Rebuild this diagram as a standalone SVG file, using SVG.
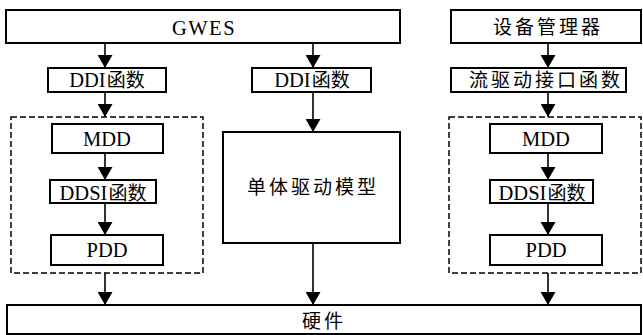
<svg xmlns="http://www.w3.org/2000/svg" width="643" height="335" viewBox="0 0 643 335">
<style>
.box{fill:#fff;stroke:#000;stroke-width:2}
.dash{fill:none;stroke:#000;stroke-width:1.5;stroke-dasharray:6 3}
.t{font-family:"Liberation Serif","Noto Sans CJK SC",serif;font-size:20.5px;fill:#000;text-anchor:middle}
.cn{font-size:19px;letter-spacing:3px}
.c{font-size:19px}
.arr{stroke:#000;stroke-width:1.6;fill:none;marker-end:url(#ah)}
</style>
<defs>
<marker id="ah" markerUnits="userSpaceOnUse" markerWidth="14" markerHeight="15" refX="13" refY="7.5" orient="auto">
<path d="M0,0 L13,7.5 L0,15 z" fill="#000"/>
</marker>
</defs>
<rect width="643" height="335" fill="#fff"/>
<g id="connectors">
<line class="arr" x1="105" y1="43" x2="105" y2="68"/>
<line class="arr" x1="313" y1="43" x2="313" y2="68"/>
<line class="arr" x1="548" y1="43" x2="548" y2="68"/>
<line class="arr" x1="105" y1="92" x2="105" y2="117"/>
<line class="arr" x1="313" y1="92" x2="313" y2="132"/>
<line class="arr" x1="548" y1="92" x2="548" y2="117"/>
<line class="arr" x1="105" y1="153" x2="105" y2="180"/>
<line class="arr" x1="105" y1="203" x2="105" y2="235"/>
<line class="arr" x1="548" y1="153" x2="548" y2="180"/>
<line class="arr" x1="548" y1="203" x2="548" y2="235"/>
<line class="arr" x1="105" y1="273" x2="105" y2="305"/>
<line class="arr" x1="313" y1="243" x2="313" y2="305"/>
<line class="arr" x1="548" y1="273" x2="548" y2="305"/>
</g>
<g id="gwes"><rect class="box" x="6" y="10" width="394" height="33"/><text class="t" x="204" y="35" letter-spacing="1.5">GWES</text></g>
<g id="devmgr"><rect class="box" x="451" y="10" width="190" height="33"/><text class="t cn" x="548" y="34">设备管理器</text></g>
<g id="ddi-left"><rect class="box" x="48" y="68" width="118" height="24"/><text class="t" x="107" y="87">DDI<tspan class="c" dx="1">函数</tspan></text></g>
<g id="ddi-mid"><rect class="box" x="252" y="68" width="119" height="24"/><text class="t" x="312" y="87">DDI<tspan class="c" dx="1">函数</tspan></text></g>
<g id="stream-if"><rect class="box" x="451" y="68" width="175" height="24"/><text class="t cn" x="546" y="87">流驱动接口函数</text></g>
<g id="group-left"><rect class="dash" x="11" y="117" width="192" height="156"/></g>
<g id="mdd-left"><rect class="box" x="52" y="124" width="111" height="29"/><text class="t" x="107" y="146">MDD</text></g>
<g id="ddsi-left"><rect class="box" x="50" y="180" width="106" height="23"/><text class="t" x="103" y="200">DDSI<tspan class="c" dx="1">函数</tspan></text></g>
<g id="pdd-left"><rect class="box" x="51" y="235" width="112" height="30"/><text class="t" x="107" y="257">PDD</text></g>
<g id="monolithic"><rect class="box" x="223" y="132" width="177" height="111"/><text class="t cn" x="313" y="194">单体驱动模型</text></g>
<g id="group-right"><rect class="dash" x="449" y="117" width="192" height="156"/></g>
<g id="mdd-right"><rect class="box" x="490" y="124" width="112" height="29"/><text class="t" x="546" y="146">MDD</text></g>
<g id="ddsi-right"><rect class="box" x="490" y="180" width="103" height="23"/><text class="t" x="542" y="200">DDSI<tspan class="c" dx="1">函数</tspan></text></g>
<g id="pdd-right"><rect class="box" x="490" y="235" width="112" height="30"/><text class="t" x="546" y="257">PDD</text></g>
<g id="hardware"><rect class="box" x="7" y="305" width="634" height="29"/><text class="t cn" x="324" y="328">硬件</text></g>
</svg>
